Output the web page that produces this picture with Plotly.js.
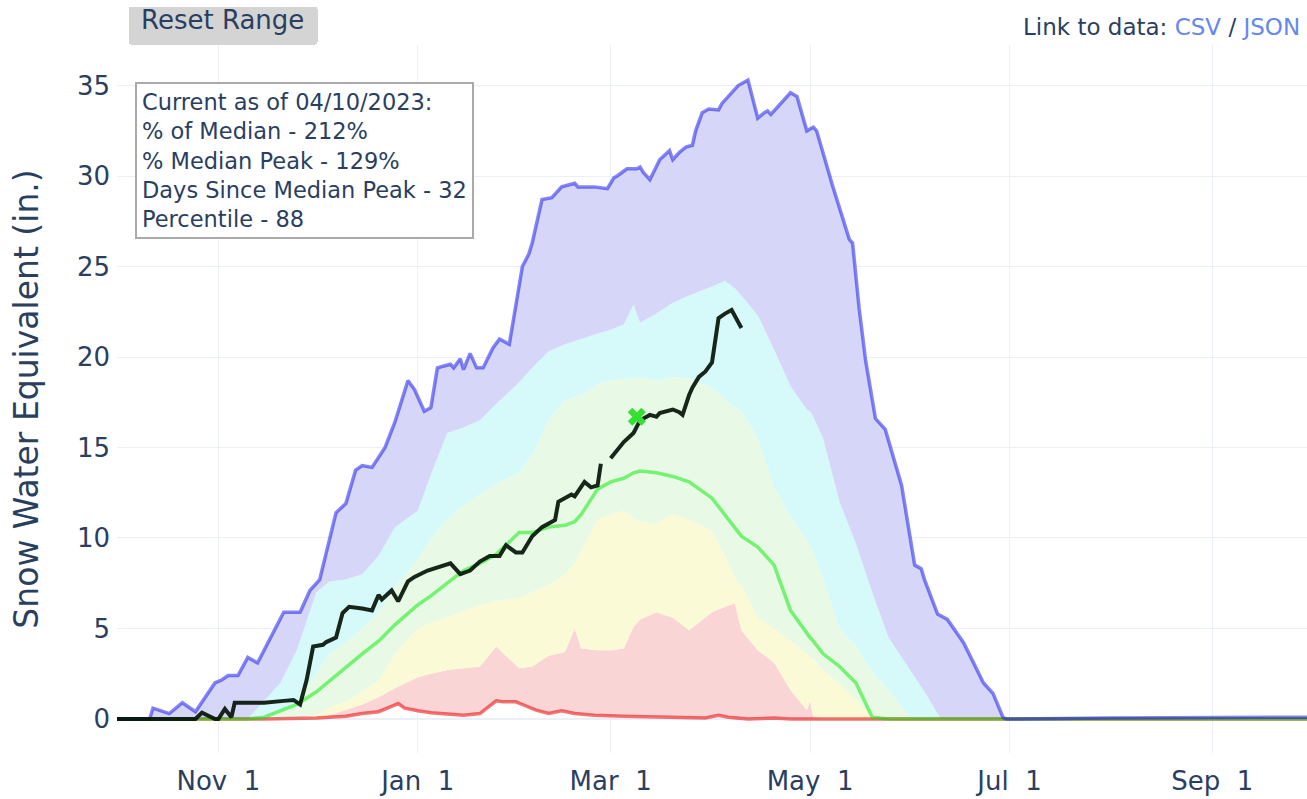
<!DOCTYPE html>
<html>
<head>
<meta charset="utf-8">
<script src="https://cdn.plot.ly/plotly-3.0.1.min.js"></script>
<style>html,body{margin:0;padding:0;background:#fff;}#chart{width:1307px;height:799px;}</style>
</head>
<body>
<div id="chart"></div>
<script>
// ---- Data ----
const bandDates = ['2022-10-01','2022-10-15','2022-11-01','2022-11-05','2022-11-10','2022-11-15','2022-11-20','2022-11-25',
 '2022-12-01','2022-12-05','2022-12-10','2022-12-15','2022-12-20','2022-12-25','2023-01-01','2023-01-05','2023-01-10',
 '2023-01-15','2023-01-20','2023-01-25','2023-02-01','2023-02-05','2023-02-10','2023-02-15','2023-02-18','2023-02-20',
 '2023-02-25','2023-03-01','2023-03-05','2023-03-08','2023-03-10','2023-03-15','2023-03-20','2023-03-25','2023-04-01',
 '2023-04-05','2023-04-08','2023-04-10','2023-04-15','2023-04-20','2023-04-25','2023-04-30','2023-05-01','2023-05-02',
 '2023-05-05','2023-05-10','2023-05-15','2023-05-20','2023-05-25','2023-06-01','2023-06-05','2023-06-10','2023-06-15',
 '2023-06-20','2023-06-25','2023-07-01','2023-08-01','2023-09-01','2023-09-30'];

const p10 = [0,0,0,0,0,0,0,0, 0,0.2,0.5,0.8,1.2,1.7,2.3,2.5,2.7, 2.8,2.9,4.0,2.8,2.9,3.5,3.7,5.0,3.9,
 3.8,3.8,3.9,5.1,5.5,5.9,5.6,4.9,5.9, 6.2,6.4,4.9,3.8,3.1,1.6,0.5,1.0,0.1, 0,0,0,0,0,0,0,0,0, 0,0,0,0,0,0];
const p30 = [0,0,0,0,0,0,0,0, 0.2,0.6,1.0,1.5,2.1,3.6,5.0,5.3,5.6, 6.0,6.3,6.5,6.7,7.0,7.4,8.0,8.6,9.3,
 11.0,11.3,11.5,11.1,10.9,10.8,11.3,11.0,10.4, 9.0,7.8,7.4,5.6,5.0,4.3,3.6,3.4,3.3, 2.7,1.9,1.1,0.1,0,0,0,0,0, 0,0,0,0,0,0];
const p70 = [0,0,0,0,0,0.1,0.4,0.9, 2.5,3.6,4.2,5.0,5.9,7.3,8.8,10.0,11.0, 11.8,12.4,13.0,13.6,14.6,16.5,17.6,17.8,17.9,
 18.5,18.7,18.8,18.8,18.9,18.7,18.9,18.8,18.3, 17.7,17.2,17.0,15.5,12.8,11.2,9.9,9.5,9.2, 7.8,5.0,4.0,2.6,1.6,0,0,0,0, 0,0,0,0,0,0];
const p90 = [0,0,0,0,0,1.0,2.0,3.8, 7.0,7.6,7.7,8.0,9.0,10.6,11.5,13.5,15.8, 16.1,16.5,17.4,18.6,19.4,20.3,20.7,20.9,21.0,
 21.3,21.5,21.8,22.9,21.9,22.4,23.0,23.4,23.9, 24.2,23.8,23.4,22.3,20.4,18.4,17.1,17.0,16.7, 15.5,12.0,9.7,7.0,4.5,2.6,1.5,0,0, 0,0,0,0,0,0];
const median = [0,0,0,0,0,0.1,0.45,0.8, 1.5,2.1,2.9,3.6,4.3,5.2,6.3,6.8,7.5, 8.2,8.6,9.1,10.3,10.3,10.6,10.7,10.9,11.3,
 12.7,13.1,13.3,13.6,13.7,13.6,13.4,13.1,12.2, 11.3,10.6,10.1,9.5,8.5,6.0,4.7,4.5,4.3, 3.6,2.9,2.0,0.1,0,0,0,0,0, 0,0,0,0,0,0];

const minDates = ['2022-10-01','2022-11-15','2022-12-01','2022-12-10','2022-12-15','2022-12-20','2022-12-24','2022-12-26',
 '2022-12-28','2023-01-01','2023-01-05','2023-01-15','2023-01-20','2023-01-25','2023-01-27','2023-01-31','2023-02-02',
 '2023-02-06','2023-02-10','2023-02-14','2023-02-18','2023-02-24','2023-03-05','2023-03-20','2023-03-30','2023-04-03',
 '2023-04-06','2023-04-12','2023-04-20','2023-04-25','2023-09-30'];
const minVals = [0,0,0.05,0.15,0.3,0.4,0.7,0.85, 0.6,0.45,0.35,0.2,0.3,1.0,0.95,0.95,0.8,
 0.5,0.3,0.45,0.3,0.2,0.15,0.1,0.05,0.2, 0.1,0,0.05,0,0];

const maxDates = ['2022-10-01','2022-10-11','2022-10-12','2022-10-17','2022-10-21','2022-10-25','2022-10-31','2022-11-02',
 '2022-11-04','2022-11-07','2022-11-10','2022-11-13','2022-11-21','2022-11-26','2022-11-29','2022-12-02','2022-12-07',
 '2022-12-10','2022-12-13','2022-12-15','2022-12-18','2022-12-22','2022-12-25','2022-12-29','2022-12-31','2023-01-03',
 '2023-01-05','2023-01-07','2023-01-09','2023-01-11','2023-01-12','2023-01-14','2023-01-15','2023-01-17','2023-01-19',
 '2023-01-21','2023-01-24','2023-01-26','2023-01-29','2023-01-31','2023-02-02','2023-02-04','2023-02-05','2023-02-08',
 '2023-02-11','2023-02-14','2023-02-18','2023-02-19','2023-02-24','2023-02-28','2023-03-02','2023-03-03','2023-03-06',
 '2023-03-09','2023-03-10','2023-03-11','2023-03-13','2023-03-16','2023-03-19','2023-03-20','2023-03-22','2023-03-24',
 '2023-03-26','2023-03-27','2023-03-29','2023-03-31','2023-04-03','2023-04-04','2023-04-09','2023-04-12','2023-04-15',
 '2023-04-17','2023-04-18','2023-04-19','2023-04-23','2023-04-25','2023-04-27','2023-04-30','2023-05-02','2023-05-03',
 '2023-05-08','2023-05-13','2023-05-14','2023-05-16','2023-05-18','2023-05-20','2023-05-21','2023-05-24','2023-05-28',
 '2023-05-29','2023-06-02','2023-06-04','2023-06-05','2023-06-09','2023-06-12','2023-06-17','2023-06-23','2023-06-26',
 '2023-06-29','2023-06-30','2023-08-01','2023-09-01','2023-09-30'];
const maxVals = [0,0,0.6,0.3,0.9,0.4,2.0,2.15, 2.4,2.4,3.4,3.1,5.9,5.9,7.1,7.7,11.4, 11.9,13.75,14.0,13.9,15.0,16.4,18.7,18.2,17.0,
 17.2,19.4,19.5,19.6,19.4,19.9,19.3,20.2,19.4, 19.4,20.5,21.0,20.7,23.0,25.0,25.7,26.3,28.7, 28.8,29.4,29.6,29.4,29.4,29.3,29.9,30.0,30.4,
 30.4,30.5,30.2,29.8,30.9,31.4,30.9,31.3,31.6, 31.7,32.5,33.5,33.7,33.65,34.0,35.0,35.3,33.2, 33.5,33.6,33.4,34.2,34.6,34.4,32.5,32.7,32.5,
 29.4,26.5,26.3,22.7,19.8,17.5,16.6,16.0,13.5, 12.9,8.5,8.3,7.7,5.8,5.5,4.2,2.0,1.4, 0.1,0,0.05,0.08,0.1];

const currentDates = ['2022-10-01','2022-10-25','2022-10-27','2022-10-29','2022-10-31','2022-11-01','2022-11-03','2022-11-05',
 '2022-11-06','2022-11-08','2022-11-15','2022-11-21','2022-11-24','2022-11-26','2022-11-28','2022-11-30','2022-12-03',
 '2022-12-04','2022-12-07','2022-12-09','2022-12-11','2022-12-15','2022-12-18','2022-12-20','2022-12-21','2022-12-24',
 '2022-12-26','2022-12-29','2022-12-31','2023-01-04','2023-01-09','2023-01-11','2023-01-14','2023-01-17','2023-01-20',
 '2023-01-23','2023-01-26','2023-01-28','2023-01-31','2023-02-02','2023-02-05','2023-02-08','2023-02-12','2023-02-13',
 '2023-02-17','2023-02-18','2023-02-21','2023-02-23','2023-02-25','2023-02-26','2023-02-27','2023-03-01','2023-03-05',
 '2023-03-08','2023-03-09','2023-03-10','2023-03-13','2023-03-15','2023-03-16','2023-03-20','2023-03-22','2023-03-23',
 '2023-03-25','2023-03-26','2023-03-28','2023-03-30','2023-04-01','2023-04-02','2023-04-03','2023-04-05','2023-04-07',
 '2023-04-10'];
const currentVals = [0,0,0.35,0.2,0,0,0.55,0.1, 0.9,0.9,0.9,1.0,1.05,0.8,2.15,4.0,4.1, 4.25,4.5,5.85,6.2,6.1,6.0,6.85,6.6,7.1,
 6.5,7.6,7.85,8.2,8.5,8.6,8.0,8.2,8.7, 9.0,9.0,9.6,9.2,9.2,10.1,10.6,11.0,12.0, 12.4,12.3,13.1,12.8,12.9,14.1,null,14.4,15.3,
 15.8,16.1,16.5,16.8,16.7,16.9,17.1,16.95,16.8, 17.9,18.3,18.9,19.2,19.7,21.05,22.15,22.4,22.6, 21.6];

const medianPeakDate = ['2023-03-09'];
const medianPeakVal = [16.7];

const tickDates = ['2022-11-01','2023-01-01','2023-03-01','2023-05-01','2023-07-01','2023-09-01'];
const tickLabels = ['Nov\u00a0\u00a01','Jan\u00a0\u00a01','Mar\u00a0\u00a01','May\u00a0\u00a01','Jul\u00a0\u00a01','Sep\u00a0\u00a01'];

const infoLines = ['Current as of 04/10/2023:','% of Median - 212%','% Median Peak - 129%','Days Since Median Peak - 32','Percentile - 88'];

// ---- Styling ----
const FONT = 'Verdana, "DejaVu Sans", sans-serif';
const TXT = '#2a3f5f';
const band = (x, y, fc, fill) => ({x, y, type:'scatter', mode:'lines', line:{width:0}, fill:fill, fillcolor:fc, hoverinfo:'skip', showlegend:false});

const traces = [
  {x:minDates, y:minVals, type:'scatter', mode:'lines', line:{width:0}, hoverinfo:'skip', showlegend:false},
  band(bandDates, p10, '#F9D5D5', 'tonexty'),
  band(bandDates, p30, '#FBFAD6', 'tonexty'),
  band(bandDates, p70, '#E8FAE5', 'tonexty'),
  band(bandDates, p90, '#D6FAFA', 'tonexty'),
  band(maxDates, maxVals, '#D6D6F8', 'tonexty'),
  {x:minDates, y:minVals, type:'scatter', mode:'lines', name:'Min', line:{color:'rgba(235,0,0,0.55)', width:3.5}},
  {x:bandDates, y:median, type:'scatter', mode:'lines', name:'Median', line:{color:'rgba(0,235,0,0.5)', width:3.5}},
  {x:maxDates, y:maxVals, type:'scatter', mode:'lines', name:'Max', line:{color:'rgba(10,10,240,0.5)', width:3.5}},
  {x:currentDates, y:currentVals, type:'scatter', mode:'lines', name:'WY2023', connectgaps:false, line:{color:'rgba(5,20,8,0.92)', width:4}},
  {x:medianPeakDate, y:medianPeakVal, type:'scatter', mode:'markers', name:'Median Peak', marker:{symbol:'x', size:16, color:'#33e033', line:{width:0}}}
];

const layout = {
  width:1307, height:799,
  margin:{l:117, r:0, t:45, b:46},
  paper_bgcolor:'#ffffff', plot_bgcolor:'#ffffff',
  font:{family:FONT, color:TXT, size:22},
  showlegend:false,
  xaxis:{type:'date', range:['2022-10-01','2023-09-30'], tickvals:tickDates, ticktext:tickLabels,
         tickfont:{size:26, family:FONT, color:TXT}, ticklabelstandoff:10,
         gridcolor:'#EBF0F8', showline:false, zeroline:false, ticks:''},
  yaxis:{range:[-1.88, 37.24], dtick:5, tick0:0, tickfont:{size:26, family:FONT, color:TXT}, ticklabelstandoff:6,
         gridcolor:'#EBF0F8', zeroline:true, zerolinecolor:'#EBF0F8', zerolinewidth:2, ticks:'',
         title:{text:'Snow Water Equivalent (in.)', font:{size:33, family:FONT, color:TXT}, standoff:28}},
  annotations:[
    {xref:'paper', yref:'paper', x:0.01513, y:0.9477, xanchor:'left', yanchor:'top', align:'left',
     text:infoLines.join('<br>'), showarrow:false, bgcolor:'#ffffff', bordercolor:'#aaaaaa', borderwidth:2, borderpad:5,
     font:{size:22.5, family:FONT, color:TXT}},
    {xref:'paper', yref:'paper', x:0.9958, y:1.0254, xanchor:'right', yanchor:'middle', showarrow:false,
     text:'Link to data: <span style="color:#6688ee">CSV</span> / <span style="color:#6688ee">JSON</span>',
     font:{size:23, family:FONT, color:TXT}}
  ],
  updatemenus:[{type:'buttons', showactive:false, x:0.00924, y:1.0555, xanchor:'left', yanchor:'top',
    pad:{l:0, r:0, t:0, b:0}, bgcolor:'#d4d4d4', bordercolor:'#d4d4d4', borderwidth:1,
    font:{size:26, family:FONT, color:TXT},
    buttons:[{label:'Reset Range', method:'relayout', args:[{'xaxis.range':['2022-10-01','2023-09-30'], 'yaxis.range':[-1.88,37.24]}]}]}]
};

Plotly.newPlot('chart', traces, layout, {displayModeBar:false});
</script>
</body>
</html>
